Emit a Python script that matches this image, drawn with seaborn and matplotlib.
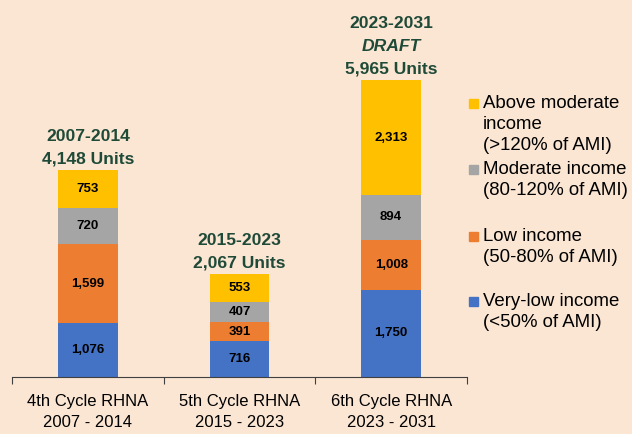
import matplotlib
matplotlib.use("Agg")
import matplotlib.pyplot as plt
import seaborn as sns
import numpy as np
import pandas as pd

categories = ["4th Cycle RHNA\n2007 - 2014", "5th Cycle RHNA\n2015 - 2023", "6th Cycle RHNA\n2023 - 2031"]
very_low = [1076, 716, 1750]
low = [1599, 391, 1008]
moderate = [720, 407, 894]
above_moderate = [753, 553, 2313]
period_labels = ["2007-2014", "2015-2023", "2023-2031"]
draft_flags = [False, False, True]
series_names = ["Very-low income\n(<50% of AMI)", "Low income\n(50-80% of AMI)",
                "Moderate income\n(80-120% of AMI)", "Above moderate\nincome\n(>120% of AMI)"]
colors = ["#4472C4", "#ED7D31", "#A5A5A5", "#FFC000"]

bg = "#FBE6D3"
title_color = "#1F4A38"

sns.set_theme(style="white")
plt.rcParams["font.family"] = ["Liberation Sans", "DejaVu Sans"]

fig = plt.figure(figsize=(6.32, 4.34), dpi=100, facecolor=bg)
ax = fig.add_axes([12/632, 57/434, 455/632, 377/434])
ax.set_facecolor(bg)

series = [very_low, low, moderate, above_moderate]
bottom = np.zeros(3)
for vals, name, col in zip(series, series_names, colors):
    df = pd.DataFrame({"cat": categories, "val": vals})
    sns.barplot(data=df, x="cat", y="val", color=col, width=0.395, bottom=bottom,
                ax=ax, saturation=1, edgecolor="none", linewidth=0)
    for i, v in enumerate(vals):
        ax.text(i, bottom[i] + v / 2, f"{v:,}", ha="center", va="center",
                fontsize=9.5, fontweight="bold", color="black")
    bottom = bottom + np.array(vals)

totals = bottom
for i, t in enumerate(totals):
    lines = [(period_labels[i], "normal")]
    if draft_flags[i]:
        lines.append(("DRAFT", "italic"))
    lines.append((f"{int(t):,} Units", "normal"))
    n = len(lines)
    for k, (txt, style) in enumerate(lines):
        off = 2.5 + (n - 1 - k) * 16.5
        ax.annotate(txt, xy=(i, t), xytext=(0, off), textcoords="offset points",
                    ha="center", va="bottom", fontsize=12.6, fontweight="bold",
                    fontstyle=style, color=title_color)

ax.set_ylim(0, 7570)
ax.set_xlim(-0.5, 2.5)
ax.set_xlabel("")
ax.set_ylabel("")
ax.set_yticks([])
for s in ["top", "right", "left"]:
    ax.spines[s].set_visible(False)
ax.spines["bottom"].set_color("#404040")
ax.spines["bottom"].set_linewidth(0.8)

ax.set_xticks([-0.5, 0.5, 1.5, 2.5])
ax.set_xticklabels([])
ax.tick_params(axis="x", which="major", direction="out", length=5, width=0.8, color="#404040", bottom=True)
ax.set_xticks([0, 1, 2], minor=True)
ax.set_xticklabels(categories, minor=True, fontsize=12, color="black", linespacing=1.5)
ax.tick_params(axis="x", which="minor", length=0, pad=12.5)

# legend (manual, top-down)
leg_items = [(series_names[3], colors[3], 104), (series_names[2], colors[2], 170),
             (series_names[1], colors[1], 237), (series_names[0], colors[0], 302)]
for name, col, ypx in leg_items:
    fig.patches.append(plt.Rectangle((469/632, 1 - (ypx + 4)/434), 9/632, 9/434,
                                     transform=fig.transFigure, color=col, figure=fig))
    fig.text(483/632, 1 - (ypx - 9)/434, name, ha="left", va="top", fontsize=13.4,
             color="black", linespacing=1.3)

fig.savefig("out.png", dpi=100, facecolor=bg)
